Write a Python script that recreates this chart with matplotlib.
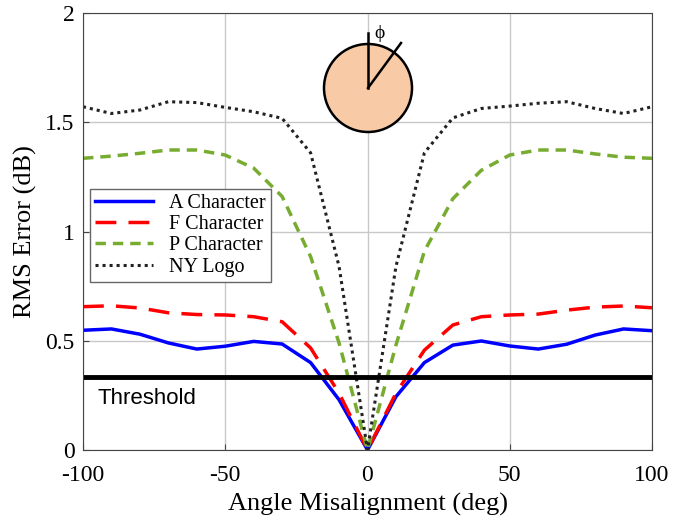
import matplotlib
matplotlib.use("Agg")
import matplotlib.pyplot as plt
from matplotlib.patches import Circle

plt.rcParams["axes.unicode_minus"] = False

angles = [-100, -90, -80, -70, -60, -50, -40, -30, -20, -10, 0,
          10, 20, 30, 40, 50, 60, 70, 80, 90, 100]
a_char = [0.548, 0.554, 0.53, 0.49, 0.462, 0.475, 0.497, 0.485, 0.40, 0.23, 0.0,
          0.244, 0.40, 0.48, 0.499, 0.476, 0.462, 0.484, 0.526, 0.554, 0.546]
f_char = [0.656, 0.66, 0.65, 0.628, 0.62, 0.618, 0.61, 0.587, 0.467, 0.26, 0.0,
          0.26, 0.457, 0.572, 0.61, 0.618, 0.622, 0.64, 0.654, 0.659, 0.651]
p_char = [1.335, 1.345, 1.358, 1.373, 1.373, 1.35, 1.29, 1.16, 0.885, 0.49, 0.0,
          0.48, 0.91, 1.15, 1.28, 1.35, 1.373, 1.373, 1.355, 1.34, 1.335]
ny_logo = [1.571, 1.54, 1.556, 1.594, 1.59, 1.568, 1.548, 1.518, 1.36, 0.84, 0.0,
           0.84, 1.36, 1.52, 1.563, 1.574, 1.587, 1.594, 1.563, 1.54, 1.571]
threshold = 0.335

serif = ["Liberation Serif", "DejaVu Serif"]

fig = plt.figure(figsize=(6.89, 5.22), dpi=100)
ax = fig.add_axes([83 / 689, 1 - 450 / 522, 569 / 689, 437 / 522])

ax.grid(True, color="#c8c8c8", lw=1)
ax.set_axisbelow(True)

ax.plot(angles, a_char, color="#0000ff", lw=2.5, label="A Character")
ax.plot(angles, f_char, color="#ff0000", lw=2.5, dashes=(6, 3.5), label="F Character")
ax.plot(angles, p_char, color="#77ac30", lw=2.5, dashes=(3, 2), label="P Character")
ax.plot(angles, ny_logo, color="#222222", lw=2.2, dashes=(1, 1.3), label="NY Logo")
ax.axhline(threshold, color="black", lw=3.5)
ax.text(-95, threshold - 0.1, "Threshold", fontsize=16,
        family=["Liberation Sans", "DejaVu Sans"], va="center")

ax.set_xlim(-100, 100)
ax.set_ylim(0, 2)
ax.set_xticks([-100, -50, 0, 50, 100])
ax.set_yticks([0, 0.5, 1, 1.5, 2])
ax.set_yticklabels(["0", "0.5", "1", "1.5", "2"])
ax.tick_params(direction="in", labelsize=17, length=4, color="#444444")
ax.tick_params(axis="x", pad=11)
ax.tick_params(axis="y", pad=6)
for lab in ax.get_xticklabels() + ax.get_yticklabels():
    lab.set_family(serif)
for sp in ax.spines.values():
    sp.set_color("#444444")
ax.set_xlabel("Angle Misalignment (deg)", fontsize=19, family=serif, labelpad=5)
ax.set_ylabel("RMS Error (dB)", fontsize=19, family=serif, labelpad=6)

leg = ax.legend(loc="upper left", bbox_to_anchor=(0.012, 0.597), fancybox=False,
                edgecolor="#666666", framealpha=1, prop={"family": serif, "size": 14.5},
                handlelength=2.9, borderpad=0.25, labelspacing=0.1, handletextpad=0.8,
                borderaxespad=0)
leg.get_frame().set_linewidth(1)

# inset circle with angle phi
ins = fig.add_axes([(368 - 60) / 689, (522 - 88 - 60) / 522, 120 / 689, 120 / 522])
ins.set_xlim(-60, 60)
ins.set_ylim(-60, 60)
ins.set_aspect("equal")
ins.axis("off")
ins.add_patch(Circle((0, 0), 44, facecolor="#f8cba6", edgecolor="black", lw=1.8))
ins.plot([0, 0], [0, 55], color="black", lw=1.8)
ins.plot([0, 33], [0, 45], color="black", lw=1.8)
ins.text(6, 55, "\u03d5", fontsize=14, family=serif, va="center")

fig.savefig("out.png", dpi=100)
